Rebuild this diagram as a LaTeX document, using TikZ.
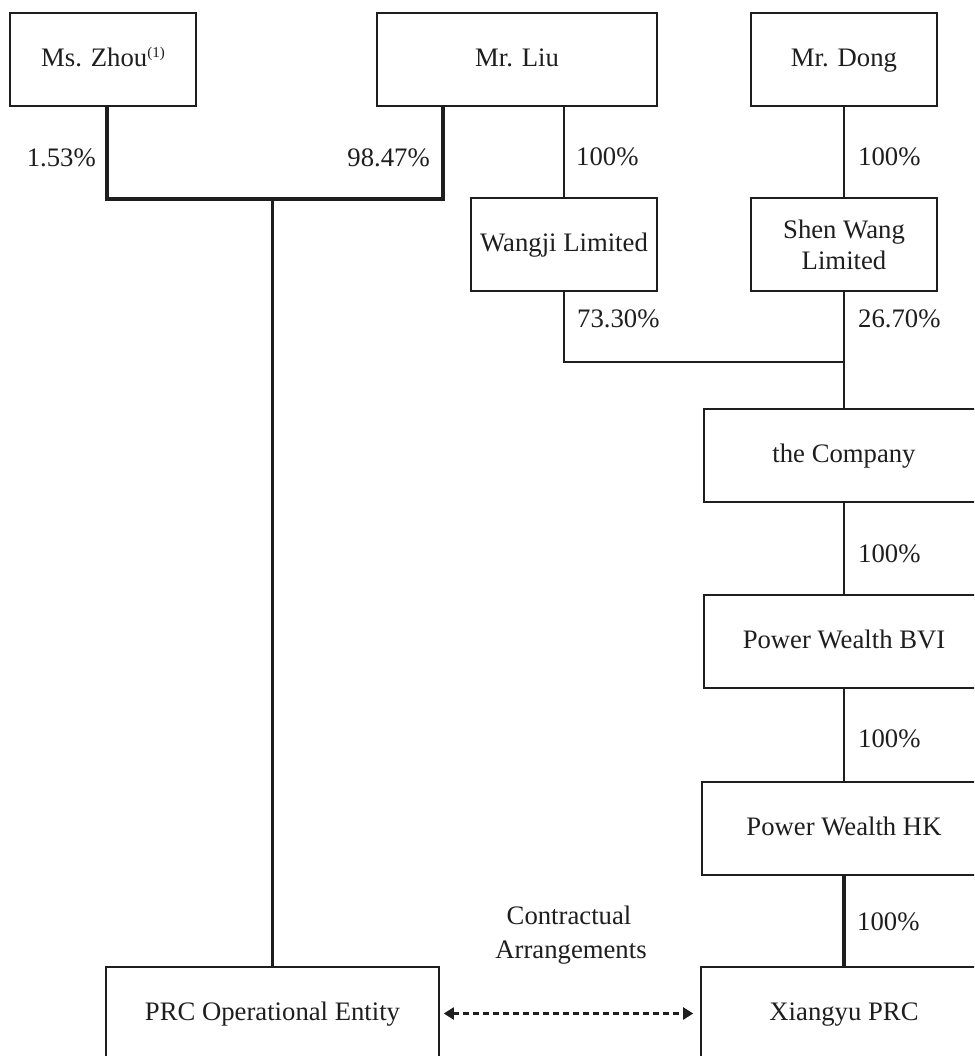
\documentclass[tikz,border=0pt]{standalone}
\usepackage{fontspec}
\setmainfont{Liberation Serif}
\usetikzlibrary{arrows.meta,calc}
\definecolor{ink}{HTML}{1E1E1E}
\tikzset{
  ent/.style={draw=ink, line width=1.6pt, inner sep=0pt, text=ink, align=center,
    font=\fontsize{26.7}{31}\selectfont},
  sl/.style={text height=19pt, text depth=5pt},
  pct/.style={inner sep=0pt, text=ink, font=\fontsize{26.7}{31}\selectfont},
  link/.style={draw=ink, line width=2.4pt},
  tlink/.style={draw=ink, line width=3.2pt},
  contract/.style={draw=ink, line width=2.1pt, dash pattern=on 6pt off 4pt,
    {Triangle[length=10pt,width=12pt]}-{Triangle[length=10pt,width=12pt]},
    shorten <=4pt, shorten >=7pt}
}
\begin{document}
\begin{tikzpicture}[x=1pt,y=-1pt]
\clip (0,0) rectangle (974,1056);
\fill[white] (0,0) rectangle (974,1056);
% entities
\node[ent, sl, minimum width=186pt, minimum height=93pt] (zhou) at (103,59.5) {Ms. Zhou\raisebox{9pt}{\fontsize{15}{15}\selectfont(1)}};
\node[ent, sl, minimum width=280pt, minimum height=93pt] (liu) at (517,59.5) {Mr. Liu};
\node[ent, sl, minimum width=186pt, minimum height=93pt] (dong) at (844,59.5) {Mr. Dong};
\node[ent, sl, minimum width=186pt, minimum height=93pt] (wangji) at (564,244.5) {Wangji Limited};
\node[ent, minimum width=186pt, minimum height=93pt] (shen) at (844,244.5) {Shen Wang\\Limited};
\node[ent, sl, minimum width=280pt, minimum height=93pt] (company) at (844,455.5) {the Company};
\node[ent, sl, minimum width=280pt, minimum height=93pt] (bvi) at (844,641.5) {Power Wealth BVI};
\node[ent, sl, minimum width=284pt, minimum height=93pt] (hk) at (844,828.5) {Power Wealth HK};
\node[ent, sl, minimum width=286pt, minimum height=93pt] (xiangyu) at (844,1013.5) {Xiangyu PRC};
\node[ent, sl, minimum width=333pt, minimum height=93pt] (prc) at (272.5,1013.5) {PRC Operational Entity};
% junction points
\coordinate (jz) at (107,199);
\coordinate (jl) at (443,199);
\coordinate (jm) at (272.5,199);
\coordinate (jc) at (844,362);
% connectors
\draw[tlink] (zhou.south -| jz) -- (jz) -- (jl) -- (liu.south -| jl);
\draw[link] (jm) -- (prc.north);
\draw[link] (liu.south -| wangji.north) -- (wangji.north);
\draw[link] (dong.south) -- (shen.north);
\draw[link] (wangji.south) -- (wangji.south |- jc) -- (jc);
\draw[link] (shen.south) -- (jc) -- (company.north);
\draw[link] (company.south) -- (bvi.north);
\draw[link] (bvi.south) -- (hk.north);
\draw[tlink] (hk.south) -- (xiangyu.north);
\draw[contract] (prc.east) -- (xiangyu.west);
% labels
\node[pct, anchor=base east] (p1) at (96,167) {1.53\%};
\node[pct, anchor=base east] (p2) at (430,167) {98.47\%};
\node[pct, anchor=base west] (p3) at (576,166) {100\%};
\node[pct, anchor=base west] (p4) at (858,166) {100\%};
\node[pct, anchor=base west] (p5) at (577,327) {73.30\%};
\node[pct, anchor=base west] (p6) at (858,327) {26.70\%};
\node[pct, anchor=base west] (p7) at (858,562) {100\%};
\node[pct, anchor=base west] (p8) at (858,747) {100\%};
\node[pct, anchor=base west] (p9) at (857,930) {100\%};
\node[pct, anchor=base] (c1) at (569,924) {Contractual};
\node[pct, anchor=base] (c2) at (571,958) {Arrangements};
\end{tikzpicture}
\end{document}
